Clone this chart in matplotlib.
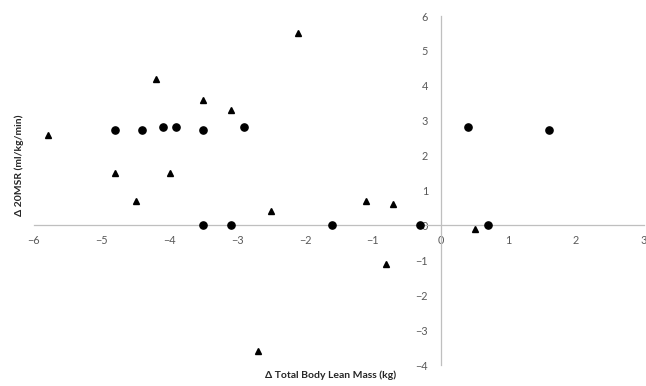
import matplotlib
matplotlib.use('Agg')
import matplotlib.pyplot as plt

# triangles
tri_x = [-5.8, -4.8, -4.5, -4.2, -4.0, -3.5, -3.1, -2.1, -2.5, -2.7,
         -1.1, -0.7, -0.8, 0.5]
tri_y = [2.6, 1.5, 0.7, 4.2, 1.5, 3.6, 3.3, 5.5, 0.4, -3.6,
         0.7, 0.6, -1.1, -0.1]

# circles
circ_x = [-4.8, -4.4, -4.1, -3.9, -3.5, -2.9, 0.4, 1.6,
          -3.5, -3.1, -1.6, -0.3, 0.7]
circ_y = [2.74, 2.74, 2.83, 2.83, 2.74, 2.83, 2.83, 2.74,
          0, 0, 0, 0, 0]

x_ticks = [-6, -5, -4, -3, -2, -1, 0, 1, 2, 3]
y_ticks = [-4, -3, -2, -1, 0, 1, 2, 3, 4, 5, 6]

plt.rcParams['font.family'] = ['Lato', 'DejaVu Sans']

fig = plt.figure(figsize=(6.46, 3.86), dpi=100)
ax = fig.add_axes([0.0526, 0.0544, 0.9442, 0.9041])

ax.plot(tri_x, tri_y, linestyle='none', marker='^', color='black',
        markersize=4.5, clip_on=False, zorder=3)
ax.plot(circ_x, circ_y, linestyle='none', marker='o', color='black',
        markersize=5.2, clip_on=False, zorder=3)

ax.set_xlim(-6, 3)
ax.set_ylim(-4, 6)
ax.set_xticks(x_ticks)
ax.set_yticks(y_ticks)

for s in ['top', 'right']:
    ax.spines[s].set_visible(False)
ax.spines['left'].set_position(('data', 0))
ax.spines['bottom'].set_position(('data', 0))
for s in ['left', 'bottom']:
    ax.spines[s].set_color('#bfbfbf')
    ax.spines[s].set_linewidth(0.9)

ax.tick_params(axis='both', length=0, colors='#595959', labelsize=7.8)
ax.tick_params(axis='x', pad=7)
ax.tick_params(axis='y', pad=9)

fig.text(0.511, 0.028, 'Δ Total Body Lean Mass (kg)', ha='center',
         va='center', fontsize=7.5, fontweight='bold', color='#262626')
fig.text(0.03, 0.572, 'Δ 20MSR (ml/kg/min)', ha='center', va='center',
         rotation=90, fontsize=7.5, fontweight='bold', color='#262626')

fig.savefig('out.png', dpi=100)
